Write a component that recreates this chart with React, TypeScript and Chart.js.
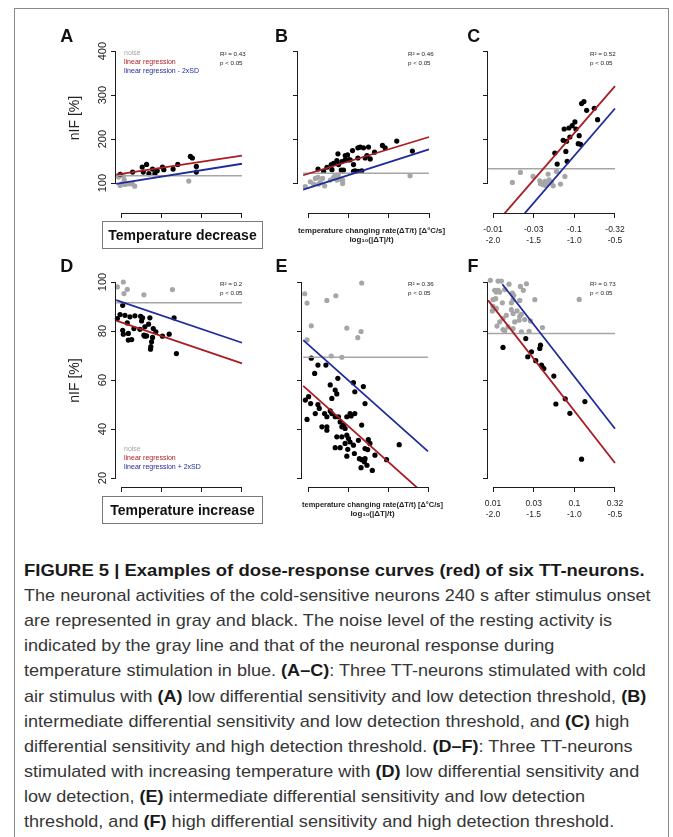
import React, { useEffect, useLayoutEffect, useRef, useState } from 'react';
import { Chart, registerables } from 'chart.js';

Chart.register(...registerables);

type Pt = [number, number];

const FONT = "'Liberation Sans', Arial, 'DejaVu Sans', sans-serif";
Chart.defaults.font.family = FONT;

// ---------------- axis ticks ----------------
const logRateTicks = [-2, -1.5, -1, -0.5];
const logRateTickLabels = ['-2.0', '-1.5', '-1.0', '-0.5'];
const coolingRateLabels = ['-0.01', '-0.03', '-0.1', '-0.32'];
const warmingRateLabels = ['0.01', '0.03', '0.1', '0.32'];
const nifTicksCooling = [100, 200, 300, 400];
const nifTicksWarming = [20, 40, 60, 80, 100];

// ---------------- panel A ----------------
const aResting: Pt[] = [[-2.03, 113.7], [-2.01, 94.7], [-1.99, 98.5], [-1.97, 116], [-1.96, 107.6], [-1.95, 97], [-1.92, 98.5], [-1.89, 98.5], [-1.86, 98.5], [-1.83, 93], [-1.16, 104.6]];
const aResponse: Pt[] = [[-2.01, 119.7], [-1.856, 125], [-1.737, 136.4], [-1.724, 125], [-1.683, 142.5], [-1.654, 121.3], [-1.609, 131.9], [-1.58, 121.3], [-1.551, 128], [-1.486, 136.4], [-1.469, 130.4], [-1.354, 131.9], [-1.296, 142.5], [-1.14, 160.7], [-1.115, 157], [-1.066, 138], [-1.066, 125]];
const aRegression: Pt[] = [[-2.06, 119.2], [-0.5, 162.3]];
const aRegressionSD: Pt[] = [[-2.06, 98.3], [-0.5, 144]];
const aNoiseLevel: Pt[] = [[-2.06, 116.7], [-0.5, 116.7]];

// ---------------- panel B ----------------
const bResting: Pt[] = [[-2.033, 92.3], [-1.971, 103], [-1.93, 97.7], [-1.909, 110.7], [-1.876, 113], [-1.868, 97.7], [-1.848, 101.5], [-1.819, 110.7], [-1.794, 93.9], [-1.724, 106.9], [-1.683, 113], [-1.662, 116.8], [-1.642, 106.9], [-1.625, 119], [-1.6, 109], [-1.571, 99], [-1.571, 106.9], [-0.735, 116.8]];
const bResponse: Pt[] = [[-1.876, 132], [-1.806, 126.8], [-1.765, 136], [-1.712, 142], [-1.703, 130.6], [-1.683, 145], [-1.642, 151], [-1.629, 166.6], [-1.621, 142], [-1.588, 129.8], [-1.58, 149], [-1.56, 129.8], [-1.539, 152.8], [-1.539, 162.7], [-1.51, 164], [-1.497, 152.8], [-1.477, 152.8], [-1.448, 174], [-1.436, 142], [-1.436, 126.8], [-1.415, 128], [-1.382, 157], [-1.382, 180.3], [-1.374, 126.8], [-1.353, 181.9], [-1.333, 128], [-1.312, 180.3], [-1.291, 157], [-1.27, 162.7], [-1.25, 181.9], [-1.229, 155], [-1.176, 170.4], [-1.077, 185.7], [-1.044, 180.3], [-0.9, 195.6], [-0.706, 172.7]];
const bRegression: Pt[] = [[-2.06, 117.8], [-0.5, 204.8]];
const bRegressionSD: Pt[] = [[-2.06, 85], [-0.5, 176.5]];
const bNoiseLevel: Pt[] = [[-2.06, 122.2], [-0.5, 122.2]];

// ---------------- panel C ----------------
const cResting: Pt[] = [[-1.762, 101.5], [-1.663, 124.3], [-1.507, 115.2], [-1.425, 105.3], [-1.416, 98.5], [-1.383, 96.2], [-1.363, 103.8], [-1.351, 94.7], [-1.322, 120.5], [-1.31, 107.6], [-1.31, 100], [-1.281, 102.3], [-1.26, 93.9], [-1.219, 126.6], [-1.17, 97.7], [-1.116, 115.2]];
const cResponse: Pt[] = [[-1.24, 168.3], [-1.211, 143.3], [-1.137, 197.2], [-1.125, 223], [-1.104, 172.1], [-1.096, 195], [-1.088, 149.4], [-1.067, 225.3], [-1.055, 204.8], [-1.026, 230.6], [-0.993, 239], [-0.981, 223], [-0.952, 189.6], [-0.94, 207.8], [-0.923, 188.1], [-0.911, 280.7], [-0.882, 285.3], [-0.849, 265.5], [-0.755, 270], [-0.714, 244.3]];
const cRegression: Pt[] = [[-2.06, -12], [-0.5, 320.5]];
const cRegressionSD: Pt[] = [[-2.06, -65.4], [-0.5, 269.6]];
const cNoiseLevel: Pt[] = [[-2.06, 132.7], [-0.5, 132.7]];

// ---------------- panel D ----------------
const dResting: Pt[] = [[-2.045, 98], [-1.971, 100], [-1.963, 95.3], [-1.922, 97], [-1.716, 94.8], [-1.362, 96.9]];
const dResponse: Pt[] = [[-2.045, 85.1], [-2.012, 86.7], [-1.979, 90.5], [-1.979, 80.3], [-1.971, 78.7], [-1.951, 86.4], [-1.922, 83.3], [-1.909, 79], [-1.909, 76.3], [-1.889, 85.8], [-1.868, 76.5], [-1.84, 81], [-1.827, 86.2], [-1.765, 80.7], [-1.757, 86], [-1.745, 84.1], [-1.733, 85.4], [-1.716, 78.3], [-1.704, 77.9], [-1.704, 81.7], [-1.683, 78], [-1.658, 82.8], [-1.642, 85.4], [-1.634, 72.6], [-1.63, 73.6], [-1.621, 75.6], [-1.609, 77.4], [-1.6, 81], [-1.568, 79.7], [-1.486, 77.9], [-1.403, 78.7], [-1.342, 85.4], [-1.313, 70.8]];
const dRegression: Pt[] = [[-2.06, 84.2], [-0.5, 66.8]];
const dRegressionSD: Pt[] = [[-2.06, 92.6], [-0.5, 75.2]];
const dNoiseLevel: Pt[] = [[-2.06, 91.5], [-0.5, 91.5]];

// ---------------- panel E ----------------
const eResting: Pt[] = [[-2.041, 95.2], [-2.012, 91.4], [-1.959, 82.1], [-2.012, 76.4], [-1.764, 92.5], [-1.652, 94.4], [-1.329, 99.6], [-1.515, 81.2], [-1.337, 79.8], [-1.378, 77.3], [-1.71, 69.8], [-1.577, 69.3]];
const eResponse: Pt[] = [[-1.959, 68.9], [-1.876, 66.1], [-1.917, 62.7], [-1.776, 66.1], [-1.627, 60.7], [-1.722, 58], [-1.66, 55.9], [-1.64, 54.3], [-1.702, 52.5], [-1.992, 53.2], [-2.033, 51.8], [-1.967, 50.4], [-1.876, 50], [-1.859, 48.4], [-1.909, 46.3], [-2.012, 43.9], [-1.793, 46.3], [-1.722, 47.4], [-1.702, 46.3], [-1.764, 45], [-1.826, 40.9], [-1.764, 40.9], [-1.764, 39.5], [-1.66, 45], [-1.619, 45], [-1.598, 42.9], [-1.577, 40.9], [-1.557, 41.6], [-1.536, 40.2], [-1.515, 45], [-1.474, 46.3], [-1.461, 45.3], [-1.432, 58.9], [-1.415, 55.2], [-1.308, 57.3], [-1.287, 50.4], [-1.329, 41.6], [-1.415, 46.3], [-1.64, 36.8], [-1.577, 36.8], [-1.515, 37.5], [-1.494, 36.1], [-1.474, 34.7], [-1.536, 34.1], [-1.598, 32.4], [-1.66, 32.4], [-1.432, 33.4], [-1.37, 35.4], [-1.246, 35.7], [-1.226, 34.1], [-1.503, 31.7], [-1.515, 28.9], [-1.42, 30], [-1.358, 27.9], [-1.329, 27.5], [-1.287, 27.9], [-1.296, 26.6], [-1.337, 24.2], [-1.263, 25.2], [-1.254, 31.6], [-1.196, 23.1], [-1.163, 29.3], [-1.018, 27.5], [-0.86, 33.6], [-1.287, 32]];
const eRegression: Pt[] = [[-2.06, 57.6], [-0.5, 12.1]];
const eRegressionSD: Pt[] = [[-2.06, 76.3], [-0.5, 30.9]];
const eNoiseLevel: Pt[] = [[-2.06, 69.3], [-0.5, 69.3]];

// ---------------- panel F ----------------
const fResting: Pt[] = [[-2.033, 100.7], [-1.938, 100.4], [-1.897, 100.4], [-1.979, 96.6], [-1.959, 95.9], [-1.938, 96.6], [-1.918, 95.9], [-1.856, 96.9], [-1.803, 99.1], [-1.762, 95.5], [-1.745, 94.6], [-1.663, 98.2], [-1.589, 99.3], [-1.627, 96.6], [-2, 92.8], [-1.967, 93.2], [-1.885, 91.5], [-1.774, 91.5], [-1.753, 92.8], [-1.671, 92.5], [-1.486, 92.8], [-2.008, 88.2], [-1.959, 89.2], [-2, 90.1], [-1.918, 83.7], [-1.951, 82], [-1.877, 85.1], [-1.836, 86.4], [-1.774, 88.7], [-1.753, 87.1], [-1.733, 83.7], [-1.704, 88.2], [-1.671, 86], [-1.651, 86.8], [-1.679, 84.4], [-1.61, 84.7], [-1.54, 84.1], [-1.877, 80.6], [-1.856, 80.1], [-1.815, 81.7], [-1.753, 81], [-1.651, 79.7], [-1.556, 79.9], [-1.392, 81.4], [-0.94, 92.9]];
const fResponse: Pt[] = [[-1.877, 73.3], [-1.597, 76.9], [-1.573, 69.5], [-1.527, 71.5], [-1.474, 67.9], [-1.425, 72.9], [-1.416, 74.2], [-1.404, 66.1], [-1.392, 65.2], [-1.375, 64.7], [-1.252, 61.6], [-1.227, 50.2], [-1.112, 52.3], [-1.055, 46.4], [-0.87, 51.2], [-0.911, 27.7]];
const fRegression: Pt[] = [[-2.06, 92.5], [-0.5, 26.1]];
const fRegressionSD: Pt[] = [[-1.885, 99.1], [-0.5, 40.1]];
const fNoiseLevel: Pt[] = [[-2.06, 79], [-0.5, 79]];

// ---------------- texts ----------------
const r2Values = ['0.43', '0.46', '0.52', '0.2', '0.36', '0.73'];
const legendCooling = ['noise', 'linear regression', 'linear regression - 2xSD'];
const legendWarming = ['noise', 'linear regression', 'linear regression + 2xSD'];
const xTitleLines = ['temperature changing rate(\u0394T/t) [\u0394\u00b0C/s]', 'log\u2081\u2080(|\u0394T|/t)'];
const captionTitle = 'FIGURE 5 | Examples of dose-response curves (red) of six TT-neurons.';
const captionLines = [
  'The neuronal activities of the cold-sensitive neurons 240 s after stimulus onset',
  'are represented in gray and black. The noise level of the resting activity is',
  'indicated by the gray line and that of the neuronal response during',
  'temperature stimulation in blue. **(A\u2013C)**: Three TT-neurons stimulated with cold',
  'air stimulus with **(A)** low differential sensitivity and low detection threshold, **(B)**',
  'intermediate differential sensitivity and low detection threshold, and **(C)** high',
  'differential sensitivity and high detection threshold. **(D\u2013F)**: Three TT-neurons',
  'stimulated with increasing temperature with **(D)** low differential sensitivity and',
  'low detection, **(E)** intermediate differential sensitivity and low detection',
  'threshold, and **(F)** high differential sensitivity and high detection threshold.',
];

// ---------------- styles ----------------
const RED = '#a81c22';
const BLUE = '#1f2b9b';
const GRAY = '#a6a6a6';
const AXIS = '#1c1c1c';
const TXT = '#222';

interface PanelSpec {
  resting: Pt[]; response: Pt[]; regression: Pt[]; regressionSD: Pt[]; noise: Pt[];
  yTicks: number[]; showYLabels: boolean; rateLabels: string[] | null; showXTitle: boolean;
  left: number; right: number; top: number; bottom: number;
  xMin: number; xMax: number; yMin: number; yMax: number; yAxisW: number; xAxisH: number;
}

const PAD_TOP = 12;
const PAD_RIGHT = 16;

const panels: PanelSpec[] = [
  { resting: aResting, response: aResponse, regression: aRegression, regressionSD: aRegressionSD, noise: aNoiseLevel,
    yTicks: nifTicksCooling, showYLabels: true, rateLabels: null, showXTitle: false,
    left: 116, right: 247, top: 23, bottom: 213, xMin: -2.062, xMax: -0.438, yMin: 32, yMax: 464, yAxisW: 60, xAxisH: 12 },
  { resting: bResting, response: bResponse, regression: bRegression, regressionSD: bRegressionSD, noise: bNoiseLevel,
    yTicks: nifTicksCooling, showYLabels: false, rateLabels: null, showXTitle: true,
    left: 298, right: 445, top: 23, bottom: 213, xMin: -2.124, xMax: -0.302, yMin: 32, yMax: 464, yAxisW: 12, xAxisH: 34 },
  { resting: cResting, response: cResponse, regression: cRegression, regressionSD: cRegressionSD, noise: cNoiseLevel,
    yTicks: nifTicksCooling, showYLabels: false, rateLabels: coolingRateLabels, showXTitle: false,
    left: 488, right: 620, top: 23, bottom: 213, xMin: -2.0615, xMax: -0.4385, yMin: 32, yMax: 464, yAxisW: 12, xAxisH: 36 },
  { resting: dResting, response: dResponse, regression: dRegression, regressionSD: dRegressionSD, noise: dNoiseLevel,
    yTicks: nifTicksWarming, showYLabels: true, rateLabels: null, showXTitle: false,
    left: 116, right: 247, top: 274, bottom: 487, xMin: -2.062, xMax: -0.438, yMin: 16.33, yMax: 103.27, yAxisW: 60, xAxisH: 12 },
  { resting: eResting, response: eResponse, regression: eRegression, regressionSD: eRegressionSD, noise: eNoiseLevel,
    yTicks: nifTicksWarming, showYLabels: false, rateLabels: null, showXTitle: true,
    left: 302, right: 443, top: 274, bottom: 487, xMin: -2.075, xMax: -0.3125, yMin: 16.33, yMax: 103.27, yAxisW: 12, xAxisH: 34 },
  { resting: fResting, response: fResponse, regression: fRegression, regressionSD: fRegressionSD, noise: fNoiseLevel,
    yTicks: nifTicksWarming, showYLabels: false, rateLabels: warmingRateLabels, showXTitle: false,
    left: 488, right: 620, top: 274, bottom: 487, xMin: -2.0615, xMax: -0.4385, yMin: 16.33, yMax: 103.27, yAxisW: 12, xAxisH: 36 },
];

// R-style axis lines: only between first and last tick
const rAxisPlugin = {
  id: 'rAxis',
  afterDraw(chart: any, _a: any, opts: any) {
    const { ctx, chartArea } = chart;
    const xs = chart.scales.x;
    const ys = chart.scales.y;
    const align = (p: number) => Math.round(p - 0.5) + 0.5;
    ctx.save();
    ctx.strokeStyle = AXIS;
    ctx.lineWidth = 1;
    ctx.beginPath();
    const yb = Math.round(chartArea.bottom) + 0.5;
    ctx.moveTo(align(xs.getPixelForValue(opts.xTicks[0])) - 0.5, yb);
    ctx.lineTo(align(xs.getPixelForValue(opts.xTicks[opts.xTicks.length - 1])) + 0.5, yb);
    const xl = Math.round(chartArea.left) - 0.5;
    ctx.moveTo(xl, align(ys.getPixelForValue(opts.yTicks[0])) + 0.5);
    ctx.lineTo(xl, align(ys.getPixelForValue(opts.yTicks[opts.yTicks.length - 1])) - 0.5);
    ctx.stroke();
    ctx.restore();
  },
};

const toXY = (pts: Pt[]) => pts.map(([x, y]) => ({ x, y }));

function Panel({ spec }: { spec: PanelSpec }) {
  const ref = useRef<HTMLCanvasElement>(null);
  const w = spec.right - spec.left + spec.yAxisW + PAD_RIGHT;
  const h = spec.bottom - spec.top + PAD_TOP + spec.xAxisH;
  useEffect(() => {
    if (!ref.current) return;
    const lineDs = (pts: Pt[], color: string, width: number) => ({
      data: toXY(pts), showLine: true, borderColor: color, backgroundColor: color, borderWidth: width,
      pointRadius: 0, fill: false,
    });
    const ptDs = (pts: Pt[], color: string) => ({
      data: toXY(pts), showLine: false, pointRadius: 2.6, pointBackgroundColor: color, backgroundColor: color,
      borderColor: color, pointBorderWidth: 0, borderWidth: 0, clip: false as any,
    });
    const chart = new Chart(ref.current, {
      type: 'scatter',
      data: {
        datasets: [
          lineDs(spec.regression, RED, 1.8),
          lineDs(spec.regressionSD, BLUE, 1.8),
          lineDs(spec.noise, GRAY, 1.5),
          ptDs(spec.response, '#000'),
          ptDs(spec.resting, GRAY),
        ] as any,
      },
      options: {
        animation: false,
        responsive: false,
        devicePixelRatio: 1,
        events: [],
        layout: { padding: { left: 0, top: PAD_TOP, right: PAD_RIGHT, bottom: 0 } },
        plugins: {
          legend: { display: false },
          tooltip: { enabled: false },
          rAxis: { xTicks: logRateTicks, yTicks: spec.yTicks },
        } as any,
        scales: {
          x: {
            type: 'linear',
            min: spec.xMin,
            max: spec.xMax,
            afterBuildTicks: (s: any) => { s.ticks = logRateTicks.map((v) => ({ value: v })); },
            afterFit: (s: any) => { s.height = spec.xAxisH; },
            grid: { drawOnChartArea: false, drawTicks: true, tickLength: 5, color: AXIS, lineWidth: 1 },
            border: { display: false },
            ticks: {
              display: !!spec.rateLabels,
              autoSkip: false,
              maxRotation: 0,
              minRotation: 0,
              padding: 6.5,
              color: TXT,
              font: { size: 8.5, lineHeight: '11px' },
              callback: (_v: any, i: number) => (spec.rateLabels ? [spec.rateLabels[i], logRateTickLabels[i]] : ''),
            },
            title: {
              display: spec.showXTitle,
              text: xTitleLines,
              color: TXT,
              font: { size: 8, weight: 'bold', lineHeight: '9.5px' },
              padding: { top: 0, bottom: 2 },
            },
          },
          y: {
            type: 'linear',
            min: spec.yMin,
            max: spec.yMax,
            afterBuildTicks: (s: any) => { s.ticks = spec.yTicks.map((v) => ({ value: v })); },
            afterFit: (s: any) => { s.width = spec.yAxisW; },
            grid: { drawOnChartArea: false, drawTicks: true, tickLength: 5, color: AXIS, lineWidth: 1 },
            border: { display: false },
            ticks: {
              display: spec.showYLabels,
              minRotation: 90,
              maxRotation: 90,
              crossAlign: 'center',
              padding: -1,
              color: TXT,
              font: { size: 11 },
              callback: (v: any) => String(v),
            },
            title: {
              display: spec.showYLabels,
              text: 'nIF [%]',
              color: TXT,
              font: { size: 14 },
              padding: { top: 10.9, bottom: 0 },
            },
          },
        },
      } as any,
      plugins: [rAxisPlugin as any],
    });
    return () => chart.destroy();
  }, []);
  return (
    <canvas
      ref={ref}
      width={w}
      height={h}
      style={{ position: 'absolute', left: spec.left - spec.yAxisW, top: spec.top - PAD_TOP, width: w, height: h }}
    />
  );
}

// text with its baseline at y
function Txt(props: { x: number; y: number; size: number; color?: string; bold?: boolean; center?: boolean; children: React.ReactNode }) {
  const { x, y, size, color = TXT, bold = false, center = false } = props;
  return (
    <div
      style={{
        position: 'absolute', left: x, top: y - 0.9465 * size, fontSize: size, lineHeight: `${size * 1.2}px`,
        fontFamily: FONT, fontWeight: bold ? 700 : 400, color, whiteSpace: 'nowrap',
        transform: center ? 'translateX(-50%)' : undefined,
      }}
    >
      {props.children}
    </div>
  );
}

function RichLine({ text }: { text: string }) {
  const parts = text.split('**');
  return <>{parts.map((p, i) => (i % 2 === 1 ? <b key={i} style={{ fontWeight: 700, color: '#1a1a1a' }}>{p}</b> : <span key={i}>{p}</span>))}</>;
}

const CAP_LEFT = 23.5;
const CAP_TITLE_W = 621;
const CAP_BODY_W = 627;
const CAP_SIZE = 17;
const CAP_LH = 25.1;
const CAP_TOP = 576.5 - ((CAP_LH - 1.117 * CAP_SIZE) / 2 + 0.905 * CAP_SIZE);

function Caption() {
  const titleRef = useRef<HTMLSpanElement>(null);
  const bodyRef = useRef<HTMLSpanElement>(null);
  const [sx, setSx] = useState({ t: 0.8, b: 0.8 });
  useLayoutEffect(() => {
    const tw = titleRef.current ? titleRef.current.offsetWidth : 1;
    const bw = bodyRef.current ? bodyRef.current.offsetWidth : 1;
    setSx({ t: CAP_TITLE_W / tw, b: CAP_BODY_W / bw });
  }, []);
  const lineStyle = (i: number): React.CSSProperties => ({
    position: 'absolute', left: CAP_LEFT, top: CAP_TOP + i * CAP_LH, height: CAP_LH, lineHeight: `${CAP_LH}px`,
    fontSize: CAP_SIZE, fontFamily: FONT, whiteSpace: 'nowrap',
  });
  return (
    <>
      <div style={lineStyle(0)}>
        <span ref={titleRef} style={{ display: 'inline-block', fontWeight: 700, color: '#1a1a1a', transform: `scaleX(${sx.t})`, transformOrigin: '0 0' }}>
          {captionTitle}
        </span>
      </div>
      {captionLines.map((l, i) => (
        <div key={i} style={lineStyle(i + 1)}>
          <span ref={i === 0 ? bodyRef : undefined} style={{ display: 'inline-block', color: '#363636', transform: `scaleX(${sx.b})`, transformOrigin: '0 0' }}>
            <RichLine text={l} />
          </span>
        </div>
      ))}
    </>
  );
}

const letters = [
  { t: 'A', x: 66.7, y: 43.5 }, { t: 'B', x: 281.5, y: 43.5 }, { t: 'C', x: 473.7, y: 43.5 },
  { t: 'D', x: 66.7, y: 273 }, { t: 'E', x: 281.5, y: 273 }, { t: 'F', x: 473, y: 273 },
];
const r2Pos = [
  { x: 220, y: 55.5 }, { x: 408, y: 55.5 }, { x: 590, y: 55.5 },
  { x: 220, y: 285.5 }, { x: 408, y: 285.5 }, { x: 590, y: 285.5 },
];
const legendColors = [GRAY, RED, BLUE];

export default function App() {
  return (
    <div style={{ position: 'absolute', left: 0, top: 0, width: 673, height: 837, overflow: 'hidden', background: '#fff', fontFamily: FONT }}>
      <div style={{ position: 'absolute', left: 14, top: 8, width: 655, height: 900, border: '1px solid #8a8a8a', boxSizing: 'border-box' }} />
      {panels.map((p, i) => <Panel key={i} spec={p} />)}
      {letters.map((l) => <Txt key={l.t} x={l.x} y={l.y} size={18} bold center color="#111">{l.t}</Txt>)}
      {r2Pos.map((p, i) => (
        <React.Fragment key={i}>
          <Txt x={p.x} y={p.y} size={6.2}>{`R\u00b2 = ${r2Values[i]}`}</Txt>
          <Txt x={p.x} y={p.y + 9} size={6.2}>p &lt; 0.05</Txt>
        </React.Fragment>
      ))}
      {legendCooling.map((t, i) => <Txt key={'lc' + i} x={124} y={55.3 + i * 9} size={7} color={legendColors[i]}>{t}</Txt>)}
      {legendWarming.map((t, i) => <Txt key={'lw' + i} x={124} y={452 + i * 9} size={7} color={legendColors[i]}>{t}</Txt>)}
      {[{ y: 221, t: 'Temperature decrease' }, { y: 496, t: 'Temperature increase' }].map((b) => (
        <div key={b.t} style={{
          position: 'absolute', left: 102, top: b.y, width: 161, height: 28, boxSizing: 'border-box',
          border: '1px solid #7a7a7a', display: 'flex', alignItems: 'center', justifyContent: 'center',
          fontFamily: FONT, fontWeight: 700, fontSize: 14, color: '#111',
        }}>{b.t}</div>
      ))}
      <Caption />
    </div>
  );
}
